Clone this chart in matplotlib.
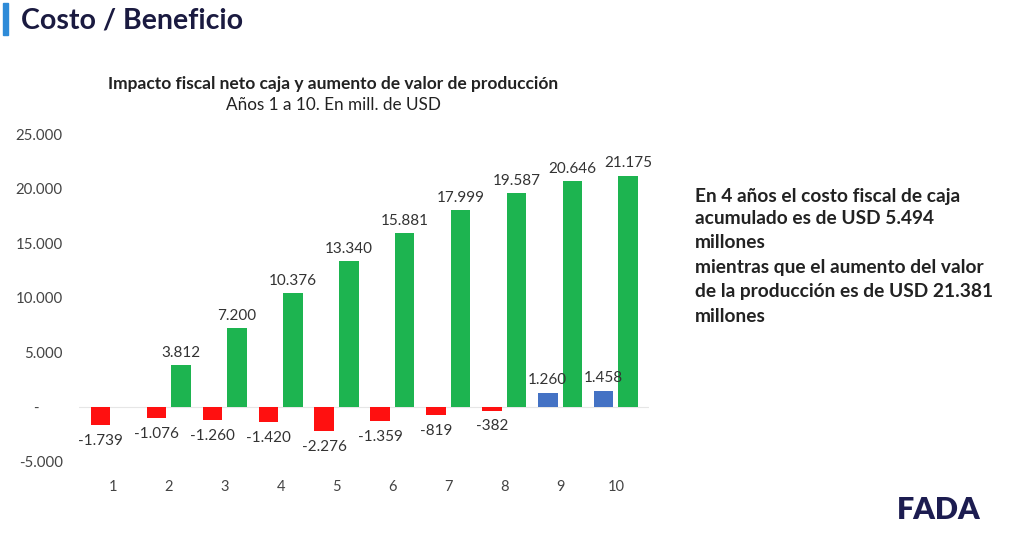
import matplotlib
matplotlib.use("Agg")
import matplotlib.pyplot as plt
from matplotlib.patches import Rectangle

years = [1, 2, 3, 4, 5, 6, 7, 8, 9, 10]
fiscal = [-1739, -1076, -1260, -1420, -2276, -1359, -819, -382, 1260, 1458]
production = [0, 3812, 7200, 10376, 13340, 15881, 17999, 19587, 20646, 21175]
yticks = [-5000, 0, 5000, 10000, 15000, 20000, 25000]

def fmt(v):
    s = f"{abs(v):,}".replace(",", ".")
    return ("-" if v < 0 else "") + s

plt.rcParams['font.family'] = ['Lato', 'DejaVu Sans']

fig = plt.figure(figsize=(10.24, 5.38), dpi=100)
fig.patch.set_facecolor('white')
ax = fig.add_axes([0.0776, 0.1431, 0.5566, 0.6159])

red, green, blue = '#FF1010', '#1DB450', '#4472C4'
w, off = 0.35, 0.22
xs_f = [y - off for y in years]
xs_p = [y + off for y in years]
fcolors = [red if v < 0 else blue for v in fiscal]
ax.bar(xs_f, fiscal, width=w, color=fcolors)
ax.bar(xs_p, production, width=w, color=green)

for x, v in zip(xs_f, fiscal):
    if v < 0:
        ax.text(x, v - 800, fmt(v), ha='center', va='top', fontsize=11, color='#333333')
    else:
        ax.text(x, v + 500, fmt(v), ha='center', va='bottom', fontsize=11, color='#333333')
for x, v in zip(xs_p, production):
    if v > 0:
        ax.text(x, v + 500, fmt(v), ha='center', va='bottom', fontsize=11, color='#333333')

ax.set_xlim(0.4, 10.6)
ax.set_ylim(-5000, 25400)
ax.set_xticks(years)
ax.set_xticklabels([str(y) for y in years], fontsize=10.5, color='#444444')
ax.set_yticks(yticks)
ax.set_yticklabels([fmt(v) if v != 0 else "-      " for v in yticks], fontsize=10.8, color='#444444')
ax.tick_params(length=0, pad=12)
ax.tick_params(axis='x', pad=14)
for s in ax.spines.values():
    s.set_visible(False)
ax.axhline(0, color='#e6e6e6', lw=0.8, zorder=0)

# Header
fig.patches.append(Rectangle((3/1024, 1 - 35/538), 5/1024, 32/538, transform=fig.transFigure,
                             color='#2E8BD8', zorder=5))
fig.text(21/1024, 1 - 20/538, "Costo / Beneficio", fontsize=20.5, fontweight='bold',
         color='#1a1a40', va='center', ha='left')

fig.text(333/1024, 1 - 84/538, "Impacto fiscal neto caja y aumento de valor de producción",
         fontsize=12.5, fontweight='bold', color='#222222', ha='center', va='center')
fig.text(333/1024, 1 - 105/538, "Años 1 a 10. En mill. de USD",
         fontsize=12.3, color='#222222', ha='center', va='center')

lines = ["En 4 años el costo fiscal de caja",
         "acumulado es de USD 5.494",
         "millones",
         "mientras que el aumento del valor",
         "de la producción es de USD 21.381",
         "millones"]
ys = [196, 219, 242, 268, 292, 316]
for t, y in zip(lines, ys):
    fig.text(695/1024, 1 - y/538, t, fontsize=13.8, fontweight='bold', color='#222222',
             ha='left', va='center')

fig.text(939/1024, 1 - 510/538, "FADA", fontsize=22, fontweight='heavy', color='#1c1c50',
         ha='center', va='center')

fig.savefig("out.png", dpi=100, facecolor='white')
